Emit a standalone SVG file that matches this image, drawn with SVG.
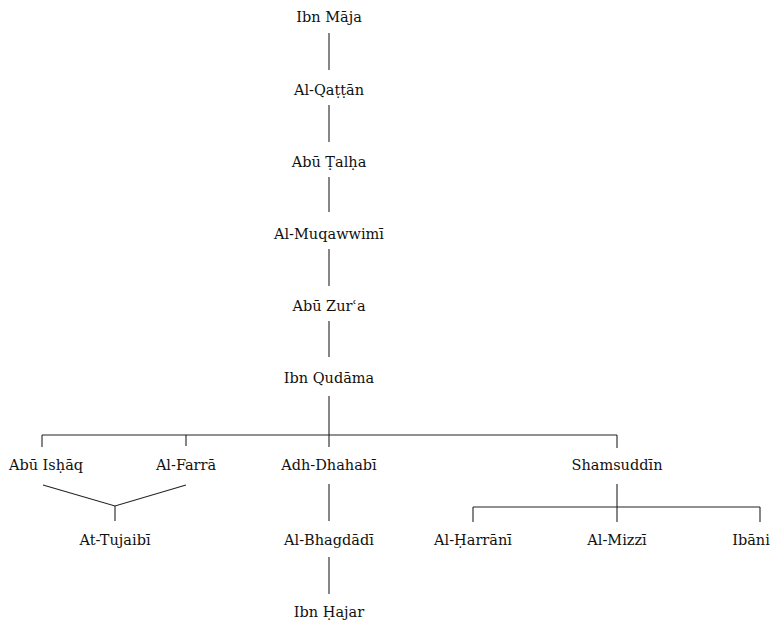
<svg xmlns="http://www.w3.org/2000/svg" width="782" height="624" viewBox="0 0 782 624">
<style>
text{font-family:"DejaVu Serif",serif;font-size:14.5px;fill:#111;text-anchor:middle}
.c line,.c polyline{stroke:#222;stroke-width:1.1;fill:none}
</style>
<rect width="782" height="624" fill="#fff"/>
<g class="c" id="connectors">
<line x1="329" y1="33" x2="329" y2="70"/>
<line x1="329" y1="105" x2="329" y2="142"/>
<line x1="329" y1="177" x2="329" y2="212"/>
<line x1="329" y1="249" x2="329" y2="286"/>
<line x1="329" y1="321" x2="329" y2="357"/>
<line x1="329" y1="396" x2="329" y2="447"/>
<line x1="42" y1="435" x2="617" y2="435"/>
<line x1="42" y1="435" x2="42" y2="447"/>
<line x1="186" y1="435" x2="186" y2="446"/>
<line x1="617" y1="435" x2="617" y2="448"/>
<polyline points="43,485 115,506 186,485"/>
<line x1="115" y1="506" x2="115" y2="521"/>
<line x1="329" y1="484" x2="329" y2="521"/>
<line x1="329" y1="557" x2="329" y2="594"/>
<line x1="617" y1="484" x2="617" y2="522"/>
<line x1="473" y1="507" x2="760" y2="507"/>
<line x1="473" y1="507" x2="473" y2="522"/>
<line x1="760" y1="507" x2="760" y2="522"/>
</g>
<g id="n1"><text x="329" y="22">Ibn Māja</text></g>
<g id="n2"><text x="329" y="95">Al-Qaṭṭān</text></g>
<g id="n3"><text x="329" y="167">Abū Ṭalḥa</text></g>
<g id="n4"><text x="329" y="239">Al-Muqawwimī</text></g>
<g id="n5"><text x="329" y="311">Abū Zurʿa</text></g>
<g id="n6"><text x="329" y="383">Ibn Qudāma</text></g>
<g id="n7"><text x="46" y="470">Abū Isḥāq</text></g>
<g id="n8"><text x="186" y="470">Al-Farrā</text></g>
<g id="n9"><text x="329" y="470">Adh-Dhahabī</text></g>
<g id="n10"><text x="617" y="470">Shamsuddīn</text></g>
<g id="n11"><text x="115" y="545">At-Tujaibī</text></g>
<g id="n12"><text x="329" y="545">Al-Bhagdādī</text></g>
<g id="n13"><text x="473" y="545">Al-Ḥarrānī</text></g>
<g id="n14"><text x="617" y="545">Al-Mizzī</text></g>
<g id="n15"><text x="751" y="545">Ibāni</text></g>
<g id="n16"><text x="329" y="617">Ibn Ḥajar</text></g>
</svg>
